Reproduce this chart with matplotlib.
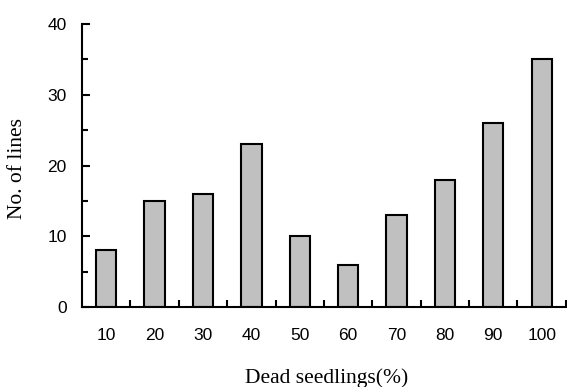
import numpy as np
from matplotlib import pyplot as plt

# data
categories = ['10', '20', '30', '40', '50', '60', '70', '80', '90', '100']
lines_count = [8, 15, 16, 23, 10, 6, 13, 18, 26, 35]
y_ticks = [0, 10, 20, 30, 40]

fig = plt.figure(figsize=(5.67, 3.87), dpi=100)
ax = fig.add_axes([0.1446, 0.2067, 0.8534, 0.7313])

x = np.arange(len(categories))
ax.bar(x, lines_count, width=0.42, color='#c0c0c0', edgecolor='black', linewidth=1.5)

ax.set_xlim(-0.5, len(categories) - 0.5)
ax.set_ylim(0, 40)

ax.spines['top'].set_visible(False)
ax.spines['right'].set_visible(False)
for side in ['left', 'bottom']:
    ax.spines[side].set_linewidth(1.5)

# x: labels under bars, small ticks between the bars
ax.set_xticks(x)
ax.set_xticklabels(categories, fontfamily='Liberation Sans', fontsize=12.5)
ax.set_xticks(list(x[:-1] + 0.5) + [len(categories) - 0.5], minor=True)
ax.tick_params(axis='x', which='major', length=0, pad=15)
ax.tick_params(axis='x', which='minor', direction='in', length=5, width=1.5)

# y: major ticks every 10, minor every 5
ax.set_yticks(y_ticks)
ax.set_yticklabels([str(v) for v in y_ticks], fontfamily='Liberation Sans', fontsize=12.5)
ax.set_yticks([5, 15, 25, 35], minor=True)
ax.tick_params(axis='y', which='major', direction='in', length=6, width=1.5, pad=11)
ax.tick_params(axis='y', which='minor', direction='in', length=4, width=1.5)

ax.set_ylabel('No. of lines', fontfamily='Liberation Serif', fontsize=15.5)
ax.yaxis.set_label_coords(-0.134, 0.49)
ax.set_xlabel('Dead seedlings(%)', fontfamily='Liberation Serif', fontsize=15.5)
ax.xaxis.set_label_coords(0.505, -0.25)
ax.xaxis.label.set_va('center')
ax.yaxis.label.set_va('center')

fig.savefig('out.png', dpi=100)
